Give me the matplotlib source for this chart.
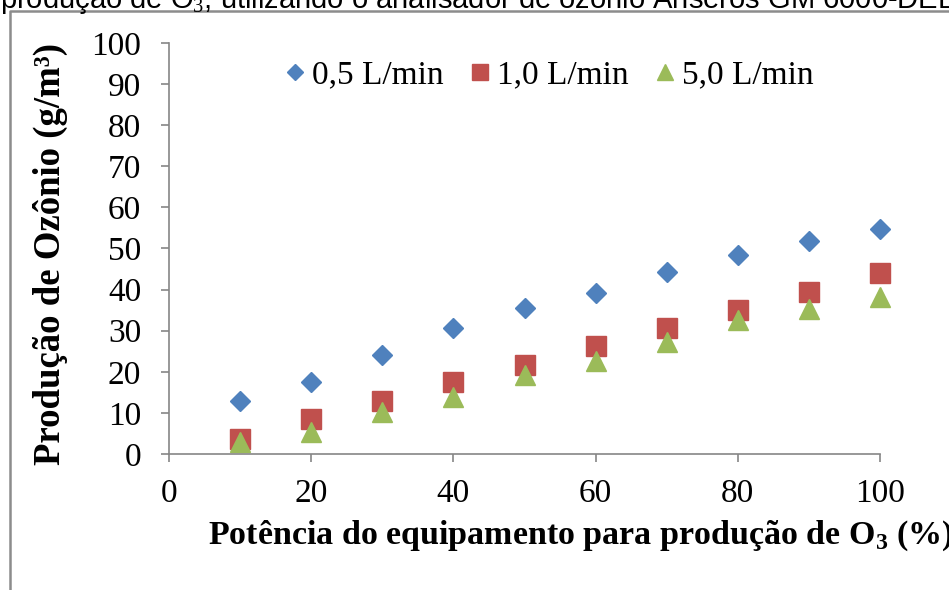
import numpy as np
import matplotlib
matplotlib.use("Agg")
from matplotlib import pyplot as plt
from matplotlib.lines import Line2D

plt.rcParams['font.family'] = ['Liberation Serif', 'DejaVu Serif']
plt.rcParams['mathtext.fontset'] = 'custom'
plt.rcParams['mathtext.rm'] = 'Liberation Serif'
plt.rcParams['mathtext.bf'] = 'Liberation Serif:bold'

potencia = [10, 20, 30, 40, 50, 60, 70, 80, 90, 100]
vazao_05 = [13.0, 17.5, 24.1, 30.7, 35.5, 39.2, 44.2, 48.4, 51.8, 54.7]
vazao_10 = [3.6, 8.5, 12.9, 17.4, 21.7, 26.3, 30.6, 35.1, 39.4, 44.0]
vazao_50 = [3.0, 5.3, 10.1, 13.8, 19.2, 22.7, 27.2, 32.6, 35.3, 38.1]
labels = ["0,5 L/min", "1,0 L/min", "5,0 L/min"]

W, H = 949, 590
fig = plt.figure(figsize=(W / 100, H / 100), dpi=100)
ax = fig.add_axes([169 / W, 1 - 454 / H, (880 - 169) / W, (454 - 43) / H])

ax.plot(potencia, vazao_05, ls='none', marker='D', ms=10.5, color='#4F81BD', label=labels[0], clip_on=False)
ax.plot(potencia, vazao_10, ls='none', marker='s', ms=14, color='#C0504D', label=labels[1], clip_on=False)
ax.plot(potencia, vazao_50, ls='none', marker='^', ms=14, color='#9BBB59', label=labels[2], clip_on=False)

ax.set_xlim(0, 100)
ax.set_ylim(0, 100)
ax.set_xticks(np.arange(0, 101, 20))
ax.set_yticks(np.arange(0, 101, 10))
for s in ['top', 'right']:
    ax.spines[s].set_visible(False)
for s in ['left', 'bottom']:
    ax.spines[s].set_color('#868686')
    ax.spines[s].set_linewidth(1.2)
ax.tick_params(axis='both', direction='out', length=6, width=1.2, color='#868686', labelsize=24)
ax.tick_params(axis='y', pad=14)
ax.tick_params(axis='x', pad=12)

fig.text(50 / W, 1 - 254 / H, "Produção de Ozônio (g/m³)", rotation=90, ha='center', va='center',
         fontsize=26.5, fontweight='bold')
fig.text(208 / W, 1 - 544 / H, r"Potência do equipamento para produção de O$_\mathbf{3}$ (%)",
         ha='left', va='baseline', fontsize=24.5, fontweight='bold')

fig.legend(loc='center', bbox_to_anchor=(546 / W, 1 - 75 / H), ncol=3, frameon=False,
           fontsize=24, handletextpad=0.0, columnspacing=0.6, handlelength=1.0, markerscale=0.8)

# moldura do documento e texto cortado no topo
fig.add_artist(Line2D([10 / W, 10 / W, 1], [0, 1 - 11 / H, 1 - 11 / H], color='#8c8c8c', lw=1.8))
fig.text(0, 1 - 8 / H, "produção de O$_3$, utilizando o analisador de ozônio Anseros GM 6000-DEL",
         family=['Liberation Sans', 'DejaVu Sans'], fontsize=21, ha='left', va='baseline')

fig.savefig("out.png", dpi=100)
